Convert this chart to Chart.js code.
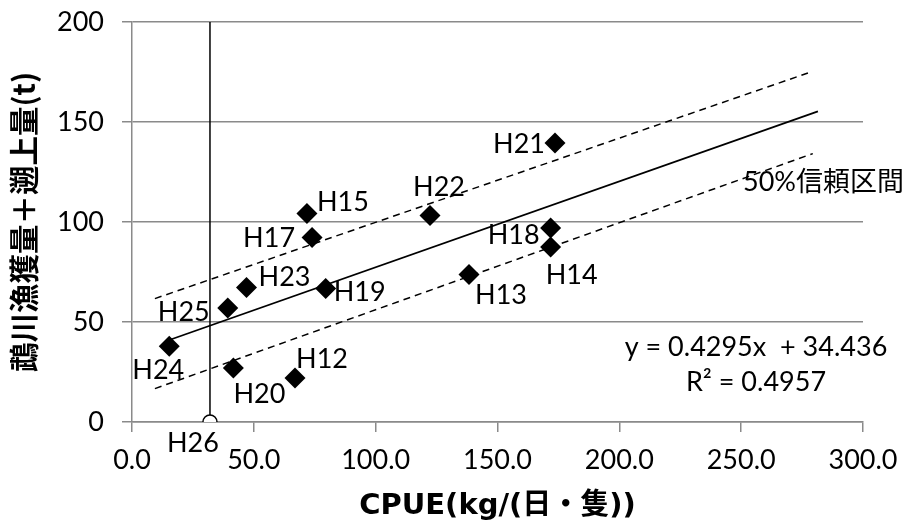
<!DOCTYPE html>
<html>
<head>
<meta charset="utf-8">
<script src="https://cdn.jsdelivr.net/npm/chart.js@4"></script>
<style>
html, body { margin: 0; padding: 0; background: #fff; }
#wrap { width: 912px; height: 526px; }
</style>
</head>
<body>
<div id="wrap"><canvas id="scatter" width="912" height="526"></canvas></div>
<script>
// observed years (H = Heisei)
var years = ['H12', 'H13', 'H14', 'H15', 'H17', 'H18', 'H19', 'H20', 'H21', 'H22', 'H23', 'H24', 'H25'];
var cpue = [66.9, 138.3, 171.8, 71.8, 73.9, 171.8, 79.5, 41.6, 173.6, 122.3, 47.0, 15.3, 39.3];
var catchT = [22.0, 73.8, 87.5, 104.3, 92.3, 97.0, 66.7, 27.0, 139.5, 103.3, 67.3, 37.9, 57.0];

// H26 (CPUE only)
var h26Name = 'H26';
var h26Cpue = 32.0;
var h26Catch = 0;
var h26LineY = [0, 200];

// regression line and 50% band, endpoints
var trendX = [15.3, 281.5];
var trendY = [41.0, 155.3];
var upperX = [9.4, 277.4];
var upperY = [61.7, 174.5];
var lowerX = [9.4, 279.4];
var lowerY = [16.7, 134.2];

var xTicks = [0, 50, 100, 150, 200, 250, 300];
var yTicks = [0, 50, 100, 150, 200];

var eqText = 'y = 0.4295x  + 34.436';
var r2Text = 'R² = 0.4957';
var bandText = '50%信頼区間';

// label offsets in px from each point (style only)
var labelOffsets = [[27, -19], [32, 21], [21, 28], [36, -11], [-43, 1], [-37, 7], [34, 4], [26, 26], [-36, 1], [9, -28], [38, -10], [-11, 24], [-44, 4]];
var h26Offset = [-17, 21];

function pts(xs, ys) {
    return xs.map(function (x, i) { return { x: x, y: ys[i] }; });
}

var labelFont = '27px Lato';

var pointLabels = {
    id: 'pointLabels',
    afterDatasetsDraw: function (chart) {
        var ctx = chart.ctx;
        ctx.save();
        ctx.fillStyle = '#000';
        ctx.font = labelFont;
        ctx.textAlign = 'center';
        ctx.textBaseline = 'middle';
        var meta = chart.getDatasetMeta(0);
        meta.data.forEach(function (p, i) {
            ctx.fillText(years[i], p.x + labelOffsets[i][0], p.y + labelOffsets[i][1]);
        });
        var p26 = chart.getDatasetMeta(1).data[0];
        ctx.fillText(h26Name, p26.x + h26Offset[0], p26.y + h26Offset[1]);

        var a = chart.chartArea;
        ctx.fillText(eqText, a.left + 624, a.top + 325);
        ctx.fillText(r2Text, a.left + 624, a.top + 360);

        ctx.textAlign = 'left';
        ctx.font = "27px Lato, 'Noto Sans CJK JP'";
        ctx.fillText(bandText, a.left + 611, a.top + 160);
        ctx.restore();
    }
};

var gray = '#8a8a8a';

var ctx = document.getElementById('scatter').getContext('2d');
var myChart = new Chart(ctx, {
    type: 'scatter',
    data: {
        datasets: [{
            data: pts(cpue, catchT),
            pointStyle: 'rectRot',
            pointRadius: 10.5,
            backgroundColor: '#000',
            borderColor: '#000',
            borderWidth: 0
        }, {
            data: [{ x: h26Cpue, y: h26Catch }],
            pointStyle: 'circle',
            pointRadius: 7,
            backgroundColor: '#fff',
            borderColor: '#000',
            borderWidth: 1.5
        }, {
            data: pts(trendX, trendY),
            showLine: true,
            pointRadius: 0,
            borderColor: '#000',
            borderWidth: 1.8
        }, {
            data: pts(upperX, upperY),
            showLine: true,
            pointRadius: 0,
            borderColor: '#000',
            borderWidth: 1.5,
            borderDash: [7, 5]
        }, {
            data: pts(lowerX, lowerY),
            showLine: true,
            pointRadius: 0,
            borderColor: '#000',
            borderWidth: 1.5,
            borderDash: [7, 5]
        }, {
            data: pts([h26Cpue, h26Cpue], h26LineY),
            showLine: true,
            pointRadius: 0,
            borderColor: '#000',
            borderWidth: 1.5
        }]
    },
    options: {
        responsive: false,
        animation: false,
        devicePixelRatio: 1,
        layout: { padding: { left: 0, right: 49, top: 22, bottom: 0 } },
        plugins: {
            legend: { display: false },
            tooltip: { enabled: false }
        },
        scales: {
            x: {
                type: 'linear',
                min: 0,
                max: 300,
                afterBuildTicks: function (s) { s.ticks = xTicks.map(function (v) { return { value: v }; }); },
                afterFit: function (s) {
                    s.height = 104;
                    s.paddingLeft = 0;
                    s.paddingRight = 0;
                },
                ticks: {
                    callback: function (v) { return v.toFixed(1); },
                    font: { family: 'Lato', size: 27 },
                    color: '#000',
                    padding: 12,
                    maxRotation: 0
                },
                grid: { drawOnChartArea: false, color: gray, lineWidth: 1.5, tickLength: 10 },
                border: { color: gray, width: 1.5 },
                title: {
                    display: true,
                    text: 'CPUE(kg/(日・隻))',
                    font: { family: "'DejaVu Sans', 'Noto Sans CJK JP'", size: 29, weight: 'bold' },
                    color: '#000',
                    padding: { top: 0, bottom: 2 }
                }
            },
            y: {
                min: 0,
                max: 200,
                afterBuildTicks: function (s) { s.ticks = yTicks.map(function (v) { return { value: v }; }); },
                afterFit: function (s) {
                    s.width = 132;
                    s.paddingTop = 0;
                    s.paddingBottom = 0;
                },
                ticks: {
                    font: { family: 'Lato', size: 27 },
                    color: '#000',
                    padding: 18
                },
                grid: { color: gray, lineWidth: 1.5, tickLength: 10 },
                border: { color: gray, width: 1.5 },
                title: {
                    display: true,
                    text: '鵡川漁獲量＋遡上量(t)',
                    font: { family: "'Noto Sans CJK JP'", size: 29.5, weight: 'bold' },
                    color: '#000',
                    padding: { top: 6, bottom: 0 }
                }
            }
        }
    },
    plugins: [pointLabels]
});
</script>
</body>
</html>
